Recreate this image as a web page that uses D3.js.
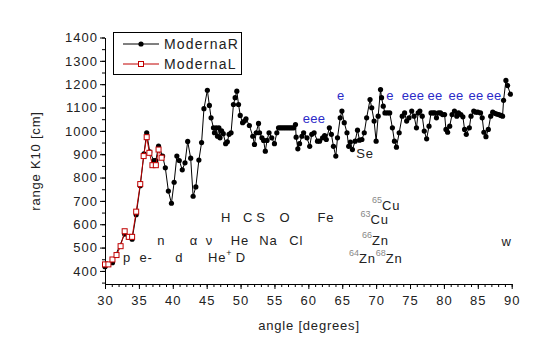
<!DOCTYPE html>
<html lang="en">
<head>
  <title>range K10 vs angle</title>
  <!-- d3 for the scales, axes and lines -->
  <script src="https://d3js.org/d3.v7.min.js"></script>
  <style>
    body { margin: 0; background: #fff; }
    text { font-family: Arial, "Liberation Sans", sans-serif; fill: #222; }
  </style>
</head>
<body>
<script>
  /* ModernaR series (black dots), angle in degrees and range in cm */
  var anglesR = [30.0, 31.1, 32.9, 33.5, 34.0, 34.6, 35.2, 35.75, 36.15, 36.6, 37.2, 37.5, 37.9, 38.5, 38.9, 39.35, 39.8,
    40.2, 40.6, 40.96, 41.4, 41.8, 42.2, 42.64, 43.0, 43.4, 43.85, 44.25, 44.6, 45.1, 45.4, 45.65, 46.0, 46.15, 46.4,
    46.6, 46.8, 46.97, 47.2, 47.45, 47.8, 48.05, 48.3, 48.6, 48.95, 49.2, 49.45, 49.7, 49.95, 50.3, 50.57, 50.8, 51.3,
    51.8, 52.05, 52.3, 52.65, 52.8, 53.15, 53.4, 53.65, 53.9, 54.2, 54.6, 55.0, 55.35, 55.6, 55.85, 56.1, 56.35, 56.6,
    56.85, 57.1, 57.35, 57.6, 57.85, 58.1, 58.2, 58.45, 58.7, 59.05, 59.3, 59.8, 60.2, 60.5, 60.85, 61.35, 61.65, 62.1,
    62.4, 62.65, 63.1, 63.4, 63.7, 64.05, 64.3, 64.7, 64.95, 65.3, 65.7, 65.95, 66.2, 66.5, 66.9, 67.25, 67.55, 67.9,
    68.25, 68.6, 69.1, 69.35, 69.7, 70.0, 70.3, 70.65, 70.8, 71.05, 71.3, 71.65, 72.0, 72.4, 72.7, 73.0, 73.4, 73.85,
    74.2, 74.5, 74.85, 75.25, 75.6, 75.95, 76.2, 76.45, 76.8, 77.1, 77.45, 77.8, 78.1, 78.4, 78.65, 78.9, 79.2, 79.5,
    79.8, 80.1, 80.3, 80.55, 80.85, 81.2, 81.55, 81.9, 82.15, 82.5, 82.8, 83.05, 83.3, 83.75, 84.0, 84.4, 84.7, 85.0,
    85.4, 85.65, 85.9, 86.2, 86.55, 86.9, 87.2, 87.5, 87.8, 88.1, 88.4, 88.65, 88.8, 89.15, 89.4, 89.8];
  var rangeR = [418, 435, 558, 545, 536, 641, 765, 902, 992, 910, 873, 873, 935, 892, 842, 742, 690,
    780, 892, 873, 833, 863, 955, 883, 720, 760, 875, 950, 1095, 1174, 1109, 1056, 1013, 992, 1013,
    977, 1013, 970, 1000, 988, 945, 953, 985, 992, 1113, 1142, 1170, 1113, 1066, 1035, 1042, 1052, 1023,
    977, 942, 992, 1032, 992, 970, 959, 913, 959, 992, 970, 945, 992, 1013, 1013, 1013, 1013, 1013,
    1013, 1013, 1013, 1013, 1013, 1027, 973, 923, 945, 977, 992, 970, 934, 985, 992, 956, 956, 970,
    980, 963, 1013, 985, 934, 892, 970, 1056, 1085, 1035, 992, 934, 952, 920, 956, 1003, 960, 963,
    992, 1056, 1134, 1099, 1042, 956, 1063, 1177, 1142, 1106, 1077, 1077, 1077, 1013, 956, 930, 992, 1063,
    1077, 1042, 1056, 1085, 1063, 1013, 1077, 1085, 1063, 999, 966, 1020, 1077, 1077, 1077, 1056, 1077, 1077,
    1070, 1070, 1006, 994, 1020, 1070, 1085, 1063, 1077, 1070, 1060, 1006, 985, 1013, 1063, 1085, 1080, 1080,
    1077, 1056, 994, 975, 1006, 1063, 1080, 1075, 1072, 1070, 1066, 1063, 1131, 1216, 1194, 1157];

  /* ModernaL series (red open squares), only the low angles */
  var anglesL = [30.0, 30.5, 31.1, 31.7, 32.3, 32.9, 33.5, 34.0, 34.6, 35.2, 35.7, 36.15, 36.55, 37.0, 37.5, 37.9, 38.35];
  var rangeL = [428, 428, 449, 468, 506, 570, 546, 546, 654, 772, 892, 973, 906, 853, 853, 920, 885];

  /* tick labels */
  var xTicks = [30, 35, 40, 45, 50, 55, 60, 65, 70, 75, 80, 85, 90];
  var yTicks = [400, 500, 600, 700, 800, 900, 1000, 1100, 1200, 1300, 1400];

  /* element / particle labels: text, angle, range */
  var labelText = ["p", "e-", "d", "n", "\u03b1", "\u03bd", "He", "Na", "Cl", "D", "H", "C", "S", "O", "Fe", "Se", "w"];
  var labelAngle = [33.25, 36.05, 40.96, 38.3, 43.1, 45.4, 49.9, 54.1, 58.2, 50.05, 47.85, 51.1, 53.0, 56.55, 62.6, 68.35, 89.25];
  var labelRange = [440, 440, 437, 511, 511, 511, 511, 511, 511, 437, 610, 610, 610, 610, 610, 882, 507];

  /* isotope labels, written as [superscript before, text, superscript after] */
  var isoParts = [[["", "He", "+"]], [["65", "Cu", ""]], [["63", "Cu", ""]], [["66", "Zn", ""]], [["64", "Zn", ""], ["68", "Zn", ""]]];
  var isoAngle = [45.2, 69.4, 67.7, 67.9, 66.0];
  var isoRange = [437, 661, 603, 513, 432];

  /* blue "e" marks above the curve */
  var eText = ["eee", "e", "e", "eee", "ee", "ee", "ee", "ee"];
  var eAngle = [60.85, 64.8, 72.05, 75.45, 78.7, 81.8, 84.75, 87.4];
  var eRange = [1032, 1134, 1134, 1134, 1134, 1134, 1134, 1134];

  var width = 543, height = 362;

  var x = d3.scaleLinear().domain([30, 90]).range([105, 511.7]);
  var y = d3.scaleLinear().domain([344, 1400]).range([284, 37.5]);

  var svg = d3.select("body").append("svg")
      .attr("width", width)
      .attr("height", height);

  // minor ticks first, the main axes go on top
  svg.append("g")
      .attr("transform", "translate(0,284)")
      .call(d3.axisBottom(x).tickValues(d3.range(30, 91, 1)).tickSize(3).tickFormat(""))
      .call(g => g.select(".domain").remove());
  svg.append("g")
      .attr("transform", "translate(105,0)")
      .call(d3.axisLeft(y).tickValues(d3.range(350, 1401, 50)).tickSize(3).tickFormat(""))
      .call(g => g.select(".domain").remove());

  var xAxis = svg.append("g")
      .attr("transform", "translate(0,284)")
      .call(d3.axisBottom(x).tickValues(xTicks).tickFormat(d3.format("d"))
        .tickSize(5).tickSizeOuter(0).tickPadding(7));
  var yAxis = svg.append("g")
      .attr("transform", "translate(105,0)")
      .call(d3.axisLeft(y).tickValues(yTicks).tickFormat(d3.format("d"))
        .tickSize(5).tickSizeOuter(0).tickPadding(2));

  svg.selectAll(".tick line, .domain").attr("stroke", "#000");
  [xAxis, yAxis].forEach(function(a) {
    a.selectAll("text")
        .style("font-size", "13px")
        .style("letter-spacing", "1px")
        .style("font-family", "Arial, 'Liberation Sans', sans-serif")
        .attr("fill", "#222");
  });

  // axis titles
  svg.append("text")
      .attr("x", 309).attr("y", 330)
      .attr("text-anchor", "middle")
      .style("font-size", "13px").style("letter-spacing", "0.8px")
      .text("angle [degrees]");
  svg.append("text")
      .attr("transform", "translate(40,161) rotate(-90)")
      .attr("text-anchor", "middle")
      .style("font-size", "13px").style("letter-spacing", "0.8px")
      .text("range K10 [cm]");

  // black series
  var seriesR = anglesR.map(function(a, i) { return [a, rangeR[i]]; });
  var seriesL = anglesL.map(function(a, i) { return [a, rangeL[i]]; });
  var line = d3.line().x(d => x(d[0])).y(d => y(d[1]));

  svg.append("path")
      .datum(seriesR)
      .attr("d", line)
      .attr("fill", "none")
      .attr("stroke", "#000")
      .attr("stroke-width", 1);
  svg.selectAll(".dotR")
      .data(seriesR)
      .enter().append("circle")
      .attr("cx", d => x(d[0]))
      .attr("cy", d => y(d[1]))
      .attr("r", 2.6)
      .attr("fill", "#000");

  // red series on top
  svg.append("path")
      .datum(seriesL)
      .attr("d", line)
      .attr("fill", "none")
      .attr("stroke", "#c00000")
      .attr("stroke-width", 1);
  svg.selectAll(".sqL")
      .data(seriesL)
      .enter().append("rect")
      .attr("x", d => x(d[0]) - 2.5)
      .attr("y", d => y(d[1]) - 2.5)
      .attr("width", 5)
      .attr("height", 5)
      .attr("fill", "#fff")
      .attr("stroke", "#c00000")
      .attr("stroke-width", 1);

  // plain labels
  labelText.forEach(function(t, i) {
    svg.append("text")
        .attr("x", x(labelAngle[i]))
        .attr("y", y(labelRange[i]))
        .attr("text-anchor", "middle")
        .style("font-size", "13px").style("letter-spacing", "0.8px")
        .attr("fill", "#333")
        .text(t);
  });

  // labels with superscripts
  isoParts.forEach(function(parts, i) {
    var t = svg.append("text")
        .attr("x", x(isoAngle[i]))
        .attr("y", y(isoRange[i]))
        .style("font-size", "13px").style("letter-spacing", "0.8px")
        .attr("fill", "#333");
    parts.forEach(function(p) {
      if (p[0]) {
        t.append("tspan").attr("dy", -7).style("font-size", "9px").style("letter-spacing", "0px")
            .style("fill", "#888").text(p[0]);
        t.append("tspan").attr("dy", 7).text(p[1]);
      } else {
        t.append("tspan").text(p[1]);
      }
      if (p[2]) {
        t.append("tspan").attr("dy", -6).style("font-size", "9px").style("letter-spacing", "0px")
            .text(p[2]);
      }
    });
  });

  // blue e marks
  eText.forEach(function(t, i) {
    svg.append("text")
        .attr("x", x(eAngle[i]))
        .attr("y", y(eRange[i]))
        .attr("text-anchor", "middle")
        .style("font-size", "13px").style("letter-spacing", "0.3px")
        .style("fill", "#2b2bc8")
        .text(t);
  });

  // legend
  var leg = svg.append("g");
  leg.append("rect")
      .attr("x", 113.5).attr("y", 32.5)
      .attr("width", 128).attr("height", 42)
      .attr("fill", "#fff").attr("stroke", "#000");
  var legNames = ["ModernaR", "ModernaL"];
  var legColors = ["#000", "#c00000"];
  legNames.forEach(function(n, i) {
    var ly = 44 + i * 20;
    leg.append("line")
        .attr("x1", 123).attr("x2", 159).attr("y1", ly).attr("y2", ly)
        .attr("stroke", legColors[i]);
    if (i === 0) {
      leg.append("circle").attr("cx", 141).attr("cy", ly).attr("r", 2.6).attr("fill", "#000");
    } else {
      leg.append("rect").attr("x", 138.5).attr("y", ly - 2.5).attr("width", 5).attr("height", 5)
          .attr("fill", "#fff").attr("stroke", "#c00000");
    }
    leg.append("text")
        .attr("x", 164).attr("y", ly + 5)
        .style("font-size", "14px").style("letter-spacing", "1.2px")
        .text(n);
  });
</script>
</body>
</html>
